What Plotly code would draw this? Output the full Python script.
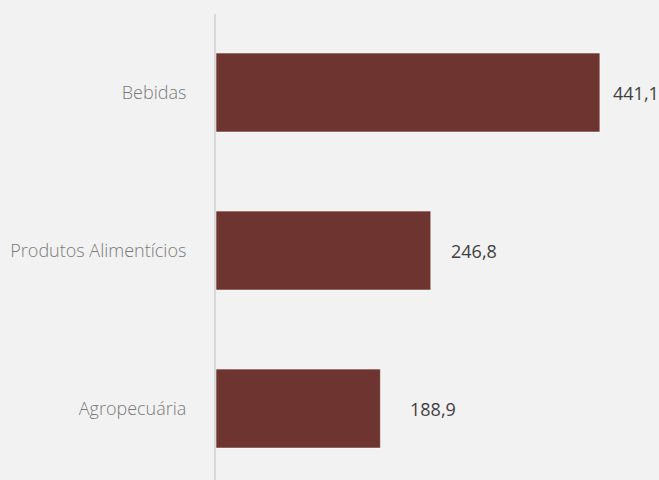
import plotly.graph_objects as go

# Data
categories = ["Bebidas", "Produtos Alimentícios", "Agropecuária"]
values = [441.1, 246.8, 188.9]
value_labels = ["441,1", "246,8", "188,9"]

# Horizontal gap (px) between each bar end and its value label
label_gaps = [11, 18, 28]

BAR_COLOR = "#6e3530"
BG = "#f2f2f2"

fig = go.Figure()
fig.add_trace(go.Bar(
    y=categories,
    x=values,
    orientation="h",
    width=0.5,
    marker=dict(color=BAR_COLOR, line=dict(color="rgba(255,255,255,0.55)", width=1)),
    hoverinfo="skip",
))

for cat, val, lab, gap in zip(categories, values, value_labels, label_gaps):
    fig.add_annotation(
        x=val, y=cat, text=lab, showarrow=False,
        xanchor="left", yanchor="middle", xshift=gap,
        font=dict(family="Open Sans", size=18, color="#404040"),
    )

fig.update_layout(
    width=659, height=480,
    margin=dict(l=216, r=0, t=14, b=0),
    paper_bgcolor=BG, plot_bgcolor=BG,
    showlegend=False,
    xaxis=dict(range=[0, 509], visible=False, fixedrange=True),
    yaxis=dict(
        type="category",
        categoryorder="array", categoryarray=categories,
        range=[2.452, -0.497],
        showline=True, linecolor="#d9d9d9", linewidth=2,
        showgrid=False, zeroline=False, ticks="",
        ticklabelstandoff=24,
        tickfont=dict(family="Open Sans", size=18, color="#7a7a7a", weight=300),
    ),
)

fig.write_html("out.html")
